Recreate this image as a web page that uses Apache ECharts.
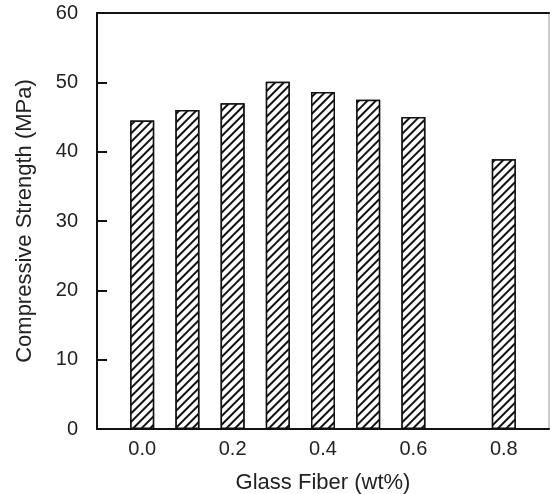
<!DOCTYPE html>
<html>
<head>
<meta charset="utf-8">
<script src="https://cdn.jsdelivr.net/npm/echarts@6/dist/echarts.min.js"></script>
<style>
  html, body { margin: 0; padding: 0; background: #fff; }
  #main { width: 550px; height: 494px; }
</style>
</head>
<body>
<div id="main"></div>
<script>
// glass fiber content (wt%) and compressive strength (MPa)
var fiberContent = [0.0, 0.1, 0.2, 0.3, 0.4, 0.5, 0.6, 0.8];
var strength = [44.5, 46.0, 47.0, 50.1, 48.6, 47.5, 45.0, 38.9];
var xTickLabels = [0.0, 0.2, 0.4, 0.6, 0.8];

var myChart = echarts.init(document.getElementById('main'));
var font = 'Liberation Sans, Arial, sans-serif';

var option = {
  animation: false,
  grid: {
    left: 97, right: 1, top: 13, bottom: 65,
    outerBoundsMode: 'none',
    containLabel: false,
    show: true,
    borderColor: '#999',
    borderWidth: 1
  },
  xAxis: [{
    type: 'value',
    min: -0.1,
    max: 0.9,
    name: 'Glass Fiber (wt%)',
    nameLocation: 'middle',
    nameGap: 43,
    nameTextStyle: { fontFamily: font, fontSize: 22, color: '#222' },
    axisLine: { show: true, onZero: false, lineStyle: { color: '#111', width: 2 } },
    axisTick: { show: false },
    splitLine: { show: false },
    axisLabel: {
      customValues: xTickLabels,
      formatter: function (v) { return v.toFixed(1); },
      fontFamily: font, fontSize: 20, color: '#222', margin: 10
    }
  }, {
    type: 'value',
    position: 'top',
    min: -0.1,
    max: 0.9,
    axisLine: { show: true, onZero: false, lineStyle: { color: '#111', width: 2 } },
    axisTick: { show: false },
    axisLabel: { show: false },
    splitLine: { show: false }
  }],
  yAxis: {
    type: 'value',
    min: 0,
    max: 60,
    interval: 10,
    name: 'Compressive Strength (MPa)',
    nameLocation: 'middle',
    nameGap: 61,
    nameTextStyle: { fontFamily: font, fontSize: 22, color: '#222' },
    axisLine: { show: true, onZero: false, lineStyle: { color: '#111', width: 2 } },
    axisTick: { show: true, inside: true, length: 10, lineStyle: { color: '#111', width: 2 } },
    splitLine: { show: false },
    axisLabel: { fontFamily: font, fontSize: 20, color: '#222', margin: 19 }
  },
  series: [{
    type: 'bar',
    barWidth: 24,
    data: fiberContent.map(function (x, i) { return [x, strength[i]]; }),
    itemStyle: {
      color: '#fff',
      borderColor: '#111',
      borderWidth: 1.5,
      decal: {
        symbol: 'rect',
        symbolSize: 1,
        dashArrayX: [1, 0],
        dashArrayY: [1.3, 3.6],
        rotation: -Math.PI / 4,
        color: '#111',
        backgroundColor: '#fff'
      }
    }
  }]
};

myChart.setOption(option);
</script>
</body>
</html>
